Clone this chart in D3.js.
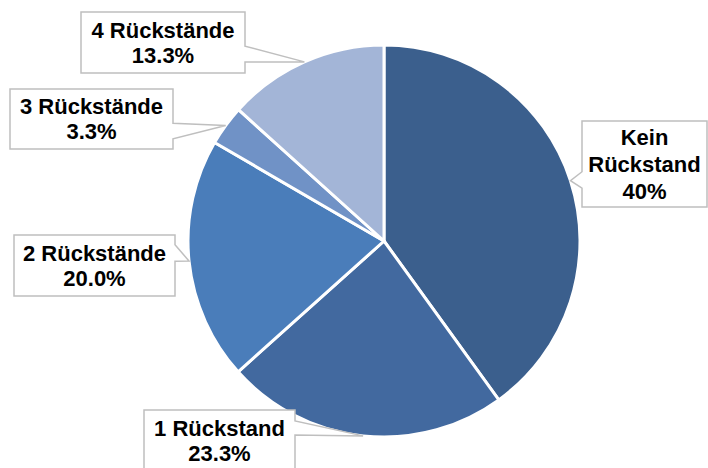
<!DOCTYPE html>
<html>
<head>
<meta charset="utf-8">
<script src="https://cdn.jsdelivr.net/npm/d3@7"></script>
<style>
  html, body { margin: 0; padding: 0; background: #ffffff; }
  svg { display: block; }
</style>
</head>
<body>
<svg id="chart" width="708" height="468"></svg>
<script>
// ---- data ----
const categories = ["Kein Rückstand", "1 Rückstand", "2 Rückstände", "3 Rückstände", "4 Rückstände"];
const values = [40.0, 23.3, 20.0, 3.3, 13.3];
const valueLabels = ["40%", "23.3%", "20.0%", "3.3%", "13.3%"];
const colors = ["#3B5F8D", "#42699F", "#4A7DBA", "#7092C6", "#A3B5D7"];

// ---- layout for callout boxes (not data) ----
const boxes = [
  { x: 582, y: 121, w: 125, h: 86, side: "left",  f: [0.59, 0.78], wrap: true,  lh: 27 },
  { x: 144, y: 410, w: 151, h: 61, side: "right", f: [0.18, 0.41], wrap: false, lh: 25 },
  { x: 14,  y: 235, w: 161, h: 61, side: "right", f: [0.16, 0.43], wrap: false, lh: 25 },
  { x: 10,  y: 89,  w: 163, h: 60, side: "right", f: [0.57, 0.83], wrap: false, lh: 25 },
  { x: 81,  y: 12,  w: 164, h: 61, side: "right", f: [0.56, 0.82], wrap: false, lh: 25 }
];

const cx = 384, cy = 241, R = 196;
const svg = d3.select("#chart");

const pie = d3.pie().sort(null).value(d => d);
const arcs = pie(values);
const arc = d3.arc().innerRadius(0).outerRadius(R);
const edge = d3.arc().innerRadius(R).outerRadius(R);

const g = svg.append("g").attr("transform", `translate(${cx},${cy})`);
g.selectAll("path.slice")
  .data(arcs)
  .join("path")
  .attr("class", "slice")
  .attr("d", arc)
  .attr("fill", (d, i) => colors[i])
  .attr("stroke", "#ffffff")
  .attr("stroke-width", 3)
  .attr("stroke-linejoin", "round");

function calloutPath(b, tip) {
  const y0 = b.y + b.f[0] * b.h, y1 = b.y + b.f[1] * b.h;
  if (b.side === "right") {
    return `M${b.x},${b.y}H${b.x + b.w}V${y0}L${tip[0]},${tip[1]}L${b.x + b.w},${y1}V${b.y + b.h}H${b.x}Z`;
  }
  return `M${b.x},${b.y}H${b.x + b.w}V${b.y + b.h}H${b.x}V${y1}L${tip[0]},${tip[1]}L${b.x},${y0}Z`;
}

const labels = svg.append("g");
arcs.forEach((d, i) => {
  const b = boxes[i];
  const c = edge.centroid(d);
  const tip = [cx + c[0], cy + c[1]];
  labels.append("path")
    .attr("d", calloutPath(b, tip))
    .attr("fill", "#ffffff")
    .attr("stroke", "#BFBFBF")
    .attr("stroke-width", 1.5);
  const lines = (b.wrap ? categories[i].split(" ") : [categories[i]]).concat([valueLabels[i]]);
  const capH = 22 * 0.716;
  const blockH = (lines.length - 1) * b.lh + capH;
  const firstBase = b.y + b.h / 2 - blockH / 2 + capH;
  const t = labels.append("text")
    .attr("text-anchor", "middle")
    .attr("font-family", "'Liberation Sans', Arial, sans-serif")
    .attr("font-weight", "bold")
    .attr("font-size", 22)
    .attr("fill", "#000000");
  lines.forEach((ln, k) => {
    t.append("tspan")
      .attr("x", b.x + b.w / 2)
      .attr("y", firstBase + k * b.lh)
      .text(ln);
  });
});
</script>
</body>
</html>
